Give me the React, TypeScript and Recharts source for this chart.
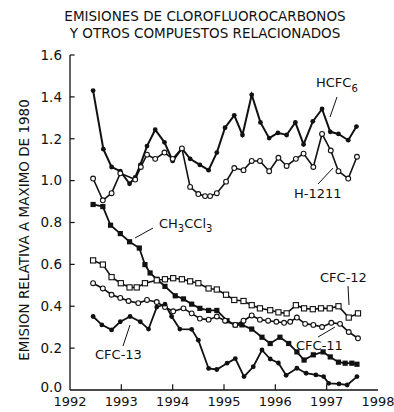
import React from 'react';
import { LineChart, Line, XAxis, YAxis, ReferenceLine } from 'recharts';

// años (eje x) y valores
const hcfcYears = [1992.45, 1992.65, 1992.81, 1992.98, 1993.16, 1993.27, 1993.37, 1993.5, 1993.66, 1993.84, 1994.0, 1994.18, 1994.34, 1994.53, 1994.7, 1994.86, 1995.02, 1995.2, 1995.36, 1995.54, 1995.71, 1995.88, 1996.05, 1996.22, 1996.39, 1996.55, 1996.73, 1996.91, 1997.07, 1997.23, 1997.42, 1997.58];
const hcfcValues = [1.43, 1.15, 1.065, 1.045, 0.985, 1.015, 1.075, 1.165, 1.243, 1.183, 1.094, 1.154, 1.104, 1.075, 1.05, 1.134, 1.253, 1.312, 1.218, 1.41, 1.278, 1.203, 1.228, 1.218, 1.278, 1.173, 1.283, 1.342, 1.233, 1.223, 1.193, 1.258];

const h1211Years = [1992.45, 1992.64, 1992.81, 1992.98, 1993.27, 1993.38, 1993.5, 1993.66, 1993.84, 1994.0, 1994.18, 1994.34, 1994.5, 1994.63, 1994.73, 1994.86, 1995.04, 1995.2, 1995.38, 1995.54, 1995.7, 1995.88, 1996.06, 1996.22, 1996.4, 1996.55, 1996.74, 1996.91, 1997.08, 1997.23, 1997.42, 1997.59];
const h1211Values = [1.01, 0.906, 0.94, 1.035, 1.005, 1.065, 1.124, 1.104, 1.134, 1.104, 1.154, 0.97, 0.936, 0.926, 0.926, 0.94, 0.995, 1.06, 1.05, 1.094, 1.094, 1.045, 1.109, 1.07, 1.104, 1.129, 1.065, 1.223, 1.144, 1.045, 1.01, 1.114];

const ch3ccl3Years = [1992.45, 1992.64, 1992.79, 1992.98, 1993.16, 1993.35, 1993.46, 1993.56, 1993.69, 1993.85, 1994.05, 1994.21, 1994.37, 1994.53, 1994.7, 1994.86, 1995.06, 1995.22, 1995.35, 1995.54, 1995.74, 1995.9, 1996.09, 1996.26, 1996.42, 1996.56, 1996.74, 1996.93, 1997.07, 1997.23, 1997.36, 1997.49, 1997.59];
const ch3ccl3Values = [0.886, 0.876, 0.787, 0.747, 0.708, 0.678, 0.599, 0.559, 0.529, 0.495, 0.45, 0.435, 0.41, 0.39, 0.38, 0.38, 0.331, 0.311, 0.311, 0.291, 0.252, 0.222, 0.252, 0.222, 0.182, 0.143, 0.168, 0.182, 0.158, 0.133, 0.128, 0.128, 0.123];

const cfc12Years = [1992.45, 1992.64, 1992.81, 1992.99, 1993.16, 1993.3, 1993.46, 1993.69, 1993.85, 1994.01, 1994.18, 1994.34, 1994.5, 1994.7, 1994.86, 1995.04, 1995.2, 1995.38, 1995.54, 1995.7, 1995.9, 1996.06, 1996.22, 1996.4, 1996.56, 1996.73, 1996.89, 1997.06, 1997.23, 1997.43, 1997.61];
const cfc12Values = [0.619, 0.599, 0.539, 0.51, 0.49, 0.49, 0.51, 0.524, 0.529, 0.534, 0.529, 0.519, 0.51, 0.485, 0.48, 0.455, 0.43, 0.425, 0.405, 0.39, 0.381, 0.371, 0.366, 0.405, 0.39, 0.386, 0.39, 0.39, 0.4, 0.346, 0.366];

const cfc11Years = [1992.45, 1992.64, 1992.81, 1992.98, 1993.14, 1993.33, 1993.5, 1993.69, 1993.85, 1994.01, 1994.21, 1994.37, 1994.53, 1994.7, 1994.86, 1995.02, 1995.22, 1995.38, 1995.54, 1995.7, 1995.86, 1996.02, 1996.17, 1996.29, 1996.42, 1996.58, 1996.74, 1996.91, 1997.09, 1997.26, 1997.43, 1997.61];
const cfc11Values = [0.51, 0.485, 0.455, 0.44, 0.425, 0.415, 0.43, 0.42, 0.396, 0.376, 0.39, 0.366, 0.341, 0.336, 0.351, 0.331, 0.311, 0.331, 0.356, 0.336, 0.331, 0.326, 0.321, 0.326, 0.346, 0.316, 0.311, 0.301, 0.321, 0.316, 0.277, 0.247];

const cfc13Years = [1992.45, 1992.62, 1992.81, 1992.98, 1993.17, 1993.37, 1993.53, 1993.69, 1993.85, 1993.98, 1994.14, 1994.37, 1994.5, 1994.7, 1994.86, 1995.06, 1995.22, 1995.39, 1995.57, 1995.74, 1995.9, 1996.06, 1996.21, 1996.42, 1996.6, 1996.79, 1996.94, 1997.04, 1997.24, 1997.4, 1997.59];
const cfc13Values = [0.351, 0.311, 0.287, 0.326, 0.351, 0.326, 0.291, 0.396, 0.41, 0.351, 0.291, 0.29, 0.238, 0.103, 0.098, 0.128, 0.15, 0.064, 0.111, 0.191, 0.148, 0.129, 0.07, 0.104, 0.08, 0.072, 0.064, 0.032, 0.029, 0.024, 0.064];

const xTicks = [1992, 1993, 1994, 1995, 1996, 1997, 1998];
const innerXTicks = [1993, 1994, 1995, 1996, 1997];
const yTicks = [0, 0.2, 0.4, 0.6, 0.8, 1.0, 1.2, 1.4, 1.6];

const toRows = (years: number[], values: number[]) => years.map((t, i) => ({ t, v: values[i] }));

const ink = '#111';
const font = '"DejaVu Sans", Verdana, sans-serif';

const filledDot = (p: any) => <circle key={p.index} cx={p.cx} cy={p.cy} r={2.4} fill={ink} />;
const openDot = (p: any) => <circle key={p.index} cx={p.cx} cy={p.cy} r={2.4} fill="#fff" stroke={ink} strokeWidth={1.1} />;
const filledSquare = (p: any) => <rect key={p.index} x={p.cx - 2.6} y={p.cy - 2.6} width={5.2} height={5.2} fill={ink} />;
const openSquare = (p: any) => <rect key={p.index} x={p.cx - 2.6} y={p.cy - 2.6} width={5.2} height={5.2} fill="#fff" stroke={ink} strokeWidth={1.1} />;

// etiqueta del eje y; la de 0.0 va un poco más arriba, como en el original
const YTick = (p: any) => {
  const v = p.payload.value as number;
  return (
    <text x={p.x} y={p.y + (v === 0 ? -3 : 0)} dy="0.355em" textAnchor="end" fill={ink} fontSize={13.5} fontFamily={font}>
      {v.toFixed(1)}
    </text>
  );
};

export default function App() {
  const series = [
    { name: 'HCFC', data: toRows(hcfcYears, hcfcValues), dot: filledDot, w: 2 },
    { name: 'H-1211', data: toRows(h1211Years, h1211Values), dot: openDot, w: 1.6 },
    { name: 'CH3CCl3', data: toRows(ch3ccl3Years, ch3ccl3Values), dot: filledSquare, w: 1.8 },
    { name: 'CFC-12', data: toRows(cfc12Years, cfc12Values), dot: openSquare, w: 1.6 },
    { name: 'CFC-11', data: toRows(cfc11Years, cfc11Values), dot: openDot, w: 1.6 },
    { name: 'CFC-13', data: toRows(cfc13Years, cfc13Values), dot: filledDot, w: 1.8 },
  ];

  return (
    <div style={{ position: 'absolute', left: 0, top: 0, width: 394, height: 412, background: '#fff', fontFamily: font }}>
      <LineChart width={394} height={412} margin={{ top: 55, right: 16, bottom: 2, left: 30 }}>
        <XAxis
          type="number"
          dataKey="t"
          domain={[1992, 1998]}
          ticks={xTicks}
          allowDuplicatedCategory={false}
          height={20}
          tickLine={false}
          tickSize={4}
          tickMargin={3}
          axisLine={{ stroke: ink, strokeWidth: 1.3 }}
          tick={{ fill: ink, fontSize: 13, fontFamily: font }}
        />
        <YAxis
          type="number"
          domain={[0, 1.6]}
          ticks={yTicks}
          width={40}
          tickLine={false}
          axisLine={{ stroke: ink, strokeWidth: 1.3 }}
          tick={YTick}
        />
        {innerXTicks.map((t) => (
          <ReferenceLine key={'x' + t} segment={[{ x: t, y: 0 }, { x: t, y: 0.028 }]} stroke={ink} strokeWidth={1.2} />
        ))}
        {yTicks.slice(1).map((v) => (
          <ReferenceLine key={'y' + v} segment={[{ x: 1992, y: v }, { x: 1992.09, y: v }]} stroke={ink} strokeWidth={1.2} />
        ))}
        {series.map((s) => (
          <Line
            key={s.name}
            data={s.data}
            dataKey="v"
            type="linear"
            stroke={ink}
            strokeWidth={s.w}
            dot={s.dot}
            activeDot={false}
            isAnimationActive={false}
          />
        ))}
      </LineChart>
      <svg width={394} height={412} style={{ position: 'absolute', left: 0, top: 0, pointerEvents: 'none' }} fontFamily={font} fill={ink}>
        <text x={205} y={21} textAnchor="middle" fontSize={13.5}>EMISIONES DE CLOROFLUOROCARBONOS</text>
        <text x={205} y={38} textAnchor="middle" fontSize={13.5}>Y OTROS COMPUESTOS RELACIONADOS</text>
        <text transform="translate(24,230) rotate(-90)" textAnchor="middle" dominantBaseline="central" fontSize={13.5}>
          EMISION RELATIVA A MAXIMO DE 1980
        </text>
        <text x={316} y={87} fontSize={13}>HCFC<tspan fontSize={10} dy={5}>6</tspan></text>
        <line x1={337} y1={97} x2={330} y2={117} stroke={ink} strokeWidth={1} />
        <text x={294} y={198} fontSize={13}>H-1211</text>
        <line x1={333} y1={168} x2={318} y2={184} stroke={ink} strokeWidth={1} />
        <text x={159} y={228} fontSize={13}>
          CH<tspan fontSize={10} dy={4}>3</tspan><tspan dy={-4}>CCl</tspan><tspan fontSize={10} dy={4}>3</tspan>
        </text>
        <line x1={153} y1={228} x2={135} y2={238} stroke={ink} strokeWidth={1} />
        <text x={320} y={282} fontSize={13}>CFC-12</text>
        <line x1={348} y1={286} x2={349} y2={305} stroke={ink} strokeWidth={1} />
        <text x={296} y={350} fontSize={13}>CFC-11</text>
        <line x1={318} y1={337} x2={335} y2={327} stroke={ink} strokeWidth={1} />
        <text x={95} y={359} fontSize={13}>CFC-13</text>
        <line x1={123} y1={346} x2={130} y2={325} stroke={ink} strokeWidth={1} />
      </svg>
    </div>
  );
}
